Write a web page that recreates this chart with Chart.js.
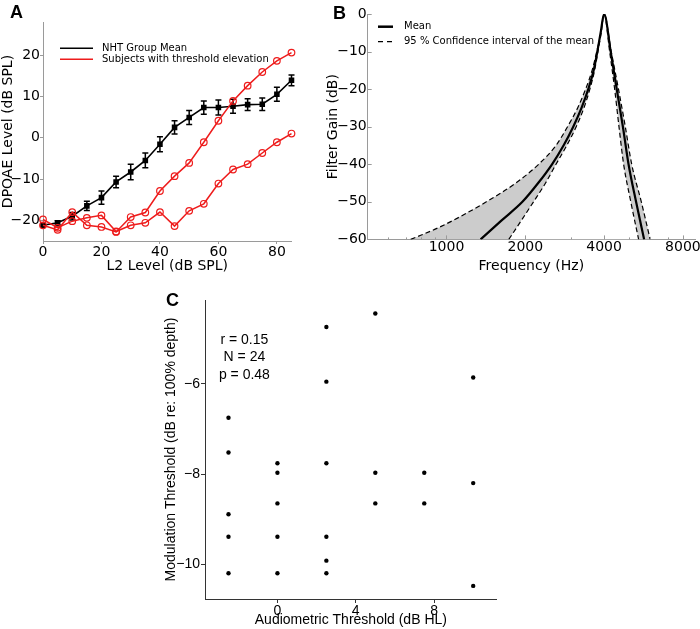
<!DOCTYPE html>
<html>
<head>
<meta charset="utf-8">
<script src="https://cdn.jsdelivr.net/npm/chart.js@4.4.0/dist/chart.umd.min.js"></script>
<style>
  body { margin: 0; background: #fff; width: 700px; height: 629px; overflow: hidden; position: relative; }
  canvas { position: absolute; }
  .panel { position: absolute; font: bold 18px "Liberation Sans", Arial, sans-serif; line-height: 18px; color: #000; }
</style>
</head>
<body>
<canvas id="chartA" width="330" height="290" style="left:0;top:0"></canvas>
<canvas id="chartB" width="400" height="290" style="left:300px;top:0"></canvas>
<canvas id="chartC" width="550" height="349" style="left:150px;top:280px"></canvas>
<div class="panel" style="left:10px;top:3px">A</div>
<div class="panel" style="left:333px;top:4px">B</div>
<div class="panel" style="left:166px;top:291px">C</div>
<script>
// ---- panel A : DPOAE growth ----
var levels = [0, 5, 10, 15, 20, 25, 30, 35, 40, 45, 50, 55, 60, 65, 70, 75, 80, 85];
var nhtMean = [-21.2, -20.6, -19.0, -16.5, -14.5, -10.7, -8.3, -5.5, -1.6, 2.5, 4.9, 7.3, 7.3, 7.6, 8.0, 8.1, 10.5, 13.9];
var nhtErr = [0.5, 0.5, 0.9, 1.1, 1.6, 1.4, 1.9, 1.8, 1.8, 1.6, 1.7, 1.6, 1.8, 1.7, 1.4, 1.5, 1.7, 1.3];
var subject1 = [-21.2, -22.3, -18.0, -21.2, -21.6, -22.8, -19.2, -18.1, -12.9, -9.3, -6.1, -1.1, 4.1, 8.9, 12.6, 15.9, 18.6, 20.6];
var subject2 = [-19.8, -21.8, -20.2, -19.4, -18.8, -22.7, -21.2, -20.6, -18.0, -21.4, -17.7, -16.0, -11.1, -7.7, -6.4, -3.7, -1.1, 1.0];
var ticksAx = [0, 20, 40, 60, 80];
var ticksAy = [-20, -10, 0, 10, 20];

// ---- panel B : filter shape (freq Hz, gain dB) ----
var meanFreq = [1350, 1620, 1950, 2240, 2530, 2800, 3050, 3280, 3480, 3650, 3770, 3880, 4000, 4240, 4470, 4720, 4960, 5300, 5690];
var meanGain = [-60, -55, -50, -45, -40, -35, -30, -25, -20, -15, -10, -5, 0, -10, -20, -30, -40, -50, -60];
var ciHiFreq = [730, 950, 1420, 1840, 2250, 2620, 2900, 3170, 3400, 3600, 3750, 3890, 4000, 4260, 4540, 4820, 5100, 5550, 6000];
var ciHiGain = [-60, -56.6, -50, -45, -40, -35, -30, -25, -20, -15, -10, -5, 0, -10, -20, -30, -40, -50, -60];
var ciLoFreq = [1730, 1930, 2150, 2390, 2620, 2880, 3130, 3350, 3530, 3680, 3790, 3900, 4000, 4200, 4390, 4560, 4750, 5060, 5420];
var ciLoGain = [-60, -55, -50, -45, -40, -35, -30, -25, -20, -15, -10, -5, 0, -10, -20, -30, -40, -50, -60];
var ticksBx = [1000, 2000, 4000, 8000];
var minorBx = [600, 700, 800, 900, 3000, 5000, 6000, 7000];
var ticksBy = [0, -10, -20, -30, -40, -50, -60];

// ---- panel C : audiometric vs modulation threshold ----
var audThr = [-2.5, -2.5, -2.5, -2.5, -2.5, 0, 0, 0, 0, 0, 2.5, 2.5, 2.5, 2.5, 2.5, 2.5, 5, 5, 5, 7.5, 7.5, 10, 10, 10];
var modThr = [-6.75, -7.52, -8.89, -9.39, -10.2, -7.76, -7.97, -8.65, -9.39, -10.2, -4.74, -5.95, -7.76, -9.39, -9.92, -10.2, -4.44, -7.97, -8.65, -7.97, -8.65, -5.86, -8.2, -10.48];
var statsText = ["r = 0.15", "N = 24", "p = 0.48"];
var ticksCx = [0, 4, 8];
var ticksCy = [-6, -8, -10];

var red = '#ee1c1c';
var grey = '#9a9a9a';
var dejavu = '"DejaVu Sans", sans-serif';
var arial = '"Liberation Sans", Arial, sans-serif';

function pairs(xs, ys) {
    return xs.map(function (v, i) { return { x: v, y: ys[i] }; });
}
function fixTicks(list) {
    return function (scale) { scale.ticks = list.map(function (v) { return { value: v }; }); };
}
// fixed axis box, and no extra room reserved for overhanging labels
function fixSize(w, h) {
    return function (scale) {
        if (w !== null) { scale.width = w; scale.paddingTop = 0; scale.paddingBottom = 0; }
        if (h !== null) { scale.height = h; scale.paddingLeft = 0; scale.paddingRight = 0; }
    };
}
function minus(v) {
    return String(v).replace('-', '\u2212');
}

// small legend drawn in canvas coords
function legendPlugin(id, items, x0, y0, rowH, len, gap, font) {
    return {
        id: id,
        afterDraw: function (chart) {
            var ctx = chart.ctx;
            ctx.save();
            ctx.font = font;
            ctx.textBaseline = 'middle';
            ctx.fillStyle = '#000';
            items.forEach(function (it, i) {
                var y = y0 + i * rowH;
                ctx.strokeStyle = it.color;
                ctx.lineWidth = it.width;
                ctx.setLineDash(it.dash || []);
                ctx.beginPath();
                ctx.moveTo(x0, y);
                ctx.lineTo(x0 + len, y);
                ctx.stroke();
                ctx.setLineDash([]);
                ctx.fillText(it.label, x0 + len + gap, y);
            });
            ctx.restore();
        }
    };
}

var errorBars = {
    id: 'errorBars',
    beforeDatasetsDraw: function (chart) {
        var ctx = chart.ctx, x = chart.scales.x, y = chart.scales.y;
        ctx.save();
        ctx.strokeStyle = '#000';
        ctx.lineWidth = 1.5;
        levels.forEach(function (lv, i) {
            var px = x.getPixelForValue(lv);
            var top = y.getPixelForValue(nhtMean[i] + nhtErr[i]);
            var bot = y.getPixelForValue(nhtMean[i] - nhtErr[i]);
            ctx.beginPath();
            ctx.moveTo(px, top); ctx.lineTo(px, bot);
            ctx.moveTo(px - 3, top); ctx.lineTo(px + 3, top);
            ctx.moveTo(px - 3, bot); ctx.lineTo(px + 3, bot);
            ctx.stroke();
        });
        ctx.restore();
    }
};

new Chart(document.getElementById('chartA'), {
    type: 'line',
    data: {
        datasets: [
            { label: 'NHT Group Mean', data: pairs(levels, nhtMean), borderColor: '#000', backgroundColor: '#000',
              borderWidth: 1.6, pointStyle: 'rect', pointRadius: 2.8, order: 3, clip: false },
            { label: 'Subjects with threshold elevation', data: pairs(levels, subject1), borderColor: red,
              backgroundColor: 'rgba(0,0,0,0)', borderWidth: 1.5, pointRadius: 3.3, pointBorderWidth: 1.2, order: 1, clip: false },
            { label: 'Subjects with threshold elevation', data: pairs(levels, subject2), borderColor: red,
              backgroundColor: 'rgba(0,0,0,0)', borderWidth: 1.5, pointRadius: 3.3, pointBorderWidth: 1.2, order: 2, clip: false }
        ]
    },
    options: {
        responsive: false, animation: false, events: [],
        layout: { padding: { left: 0, top: 22, right: 38.5, bottom: 11 } },
        plugins: { legend: { display: false }, tooltip: { enabled: false } },
        scales: {
            x: {
                type: 'linear', min: 0, max: 85,
                afterBuildTicks: fixTicks(ticksAx), afterFit: fixSize(null, 38),
                grid: { drawOnChartArea: false, tickLength: 3, color: grey },
                border: { color: grey },
                ticks: { padding: 0, color: '#000', callback: minus, font: { family: dejavu, size: 14 } },
                title: { display: true, text: 'L2 Level (dB SPL)', color: '#000', padding: { top: 4, bottom: 4 }, font: { family: dejavu, size: 14 } }
            },
            y: {
                min: -25, max: 28,
                afterBuildTicks: fixTicks(ticksAy), afterFit: fixSize(43, null),
                grid: { drawOnChartArea: false, tickLength: 3, color: grey },
                border: { color: grey },
                ticks: { padding: 0, color: '#000', callback: minus, font: { family: dejavu, size: 14 } },
                title: { display: true, text: 'DPOAE Level (dB SPL)', color: '#000', padding: { top: 0, bottom: 0 }, font: { family: dejavu, size: 14 } }
            }
        }
    },
    plugins: [errorBars, legendPlugin('legA', [
        { label: 'NHT Group Mean', color: '#000', width: 1.5 },
        { label: 'Subjects with threshold elevation', color: red, width: 1.5 }
    ], 60, 48.3, 11, 33, 9, '10px ' + dejavu)]
});

var innerTicksB = {
    id: 'innerTicksB',
    afterDraw: function (chart) {
        var ctx = chart.ctx, x = chart.scales.x, y = chart.scales.y, a = chart.chartArea;
        ctx.save();
        ctx.strokeStyle = grey;
        ctx.lineWidth = 1;
        ctx.beginPath();
        ticksBx.forEach(function (f) { var p = Math.round(x.getPixelForValue(f)) + 0.5; ctx.moveTo(p, a.bottom); ctx.lineTo(p, a.bottom - 4); });
        minorBx.forEach(function (f) { var p = Math.round(x.getPixelForValue(f)) + 0.5; ctx.moveTo(p, a.bottom); ctx.lineTo(p, a.bottom - 2); });
        ticksBy.forEach(function (g) { var p = Math.round(y.getPixelForValue(g)) + 0.5; ctx.moveTo(a.left, p); ctx.lineTo(a.left + 4, p); });
        ctx.stroke();
        ctx.restore();
    }
};

new Chart(document.getElementById('chartB'), {
    type: 'line',
    data: {
        datasets: [
            { label: 'Mean', data: pairs(meanFreq, meanGain), borderColor: '#000', borderWidth: 2.2,
              pointRadius: 0, cubicInterpolationMode: 'monotone', order: 1, fill: false },
            { label: 'ci low', data: pairs(ciLoFreq, ciLoGain), borderColor: '#000', borderWidth: 1.2, borderDash: [5, 3],
              backgroundColor: '#ffffff', pointRadius: 0, cubicInterpolationMode: 'monotone', order: 2, fill: 'start' },
            { label: 'ci high', data: pairs(ciHiFreq, ciHiGain), borderColor: '#000', borderWidth: 1.2, borderDash: [5, 3],
              backgroundColor: '#cccccc', pointRadius: 0, cubicInterpolationMode: 'monotone', order: 3, fill: 'start' }
        ]
    },
    options: {
        responsive: false, animation: false, events: [],
        layout: { padding: { left: 20.6, top: 14, right: 5, bottom: 11.6 } },
        plugins: { legend: { display: false }, tooltip: { enabled: false } },
        scales: {
            x: {
                type: 'logarithmic', min: 500, max: 8900,
                afterBuildTicks: fixTicks(ticksBx), afterFit: fixSize(null, 39),
                grid: { display: false, drawTicks: false },
                border: { color: grey },
                ticks: { padding: 0, color: '#000', callback: function (v) { return String(v); }, font: { family: dejavu, size: 14 } },
                title: { display: true, text: 'Frequency (Hz)', color: '#000', font: { family: dejavu, size: 14 } }
            },
            y: {
                min: -60, max: 0,
                afterBuildTicks: fixTicks(ticksBy), afterFit: fixSize(47.1, null),
                grid: { display: false, drawTicks: false },
                border: { color: grey },
                ticks: { padding: 1, color: '#000', callback: minus, font: { family: dejavu, size: 14 } },
                title: { display: true, text: 'Filter Gain (dB)', color: '#000', font: { family: dejavu, size: 14 } }
            }
        }
    },
    plugins: [innerTicksB, legendPlugin('legB', [
        { label: 'Mean', color: '#000', width: 2.5 },
        { label: '95 % Confidence interval of the mean', color: '#000', width: 1.3, dash: [5, 4] }
    ], 78, 26.7, 15, 15, 11, '10px ' + dejavu)]
});

var statsPlugin = {
    id: 'stats',
    afterDraw: function (chart) {
        var ctx = chart.ctx;
        ctx.save();
        ctx.font = '14px ' + arial;
        ctx.fillStyle = '#000';
        ctx.textAlign = 'center';
        ctx.textBaseline = 'middle';
        statsText.forEach(function (t, i) { ctx.fillText(t, 94.4, 60 + i * 17.5); });
        ctx.restore();
    }
};

new Chart(document.getElementById('chartC'), {
    type: 'scatter',
    data: {
        datasets: [
            { data: pairs(audThr, modThr), backgroundColor: '#000', borderColor: '#000', pointRadius: 2.2, borderWidth: 0 }
        ]
    },
    options: {
        responsive: false, animation: false, events: [],
        layout: { padding: { left: 9, top: 20, right: 203.3, bottom: 0 } },
        plugins: { legend: { display: false }, tooltip: { enabled: false } },
        scales: {
            x: {
                type: 'linear', min: -3.7, max: 11.2,
                afterBuildTicks: fixTicks(ticksCx), afterFit: fixSize(null, 30),
                grid: { drawOnChartArea: false, tickLength: 4, color: '#333' },
                border: { color: '#333' },
                ticks: { padding: 0, color: '#000', callback: minus, font: { family: arial, size: 14 } },
                title: { display: true, text: 'Audiometric Threshold (dB HL)', color: '#000', padding: { top: 0, bottom: 0 }, font: { family: arial, size: 14 } }
            },
            y: {
                min: -10.77, max: -4.14,
                afterBuildTicks: fixTicks(ticksCy), afterFit: fixSize(46, null),
                grid: { drawOnChartArea: false, tickLength: 4, color: '#333' },
                border: { color: '#333' },
                ticks: { padding: 1, color: '#000', callback: minus, font: { family: arial, size: 14 } },
                title: { display: true, text: 'Modulation Threshold (dB re: 100% depth)', color: '#000', font: { family: arial, size: 14 } }
            }
        }
    },
    plugins: [statsPlugin]
});
</script>
</body>
</html>
